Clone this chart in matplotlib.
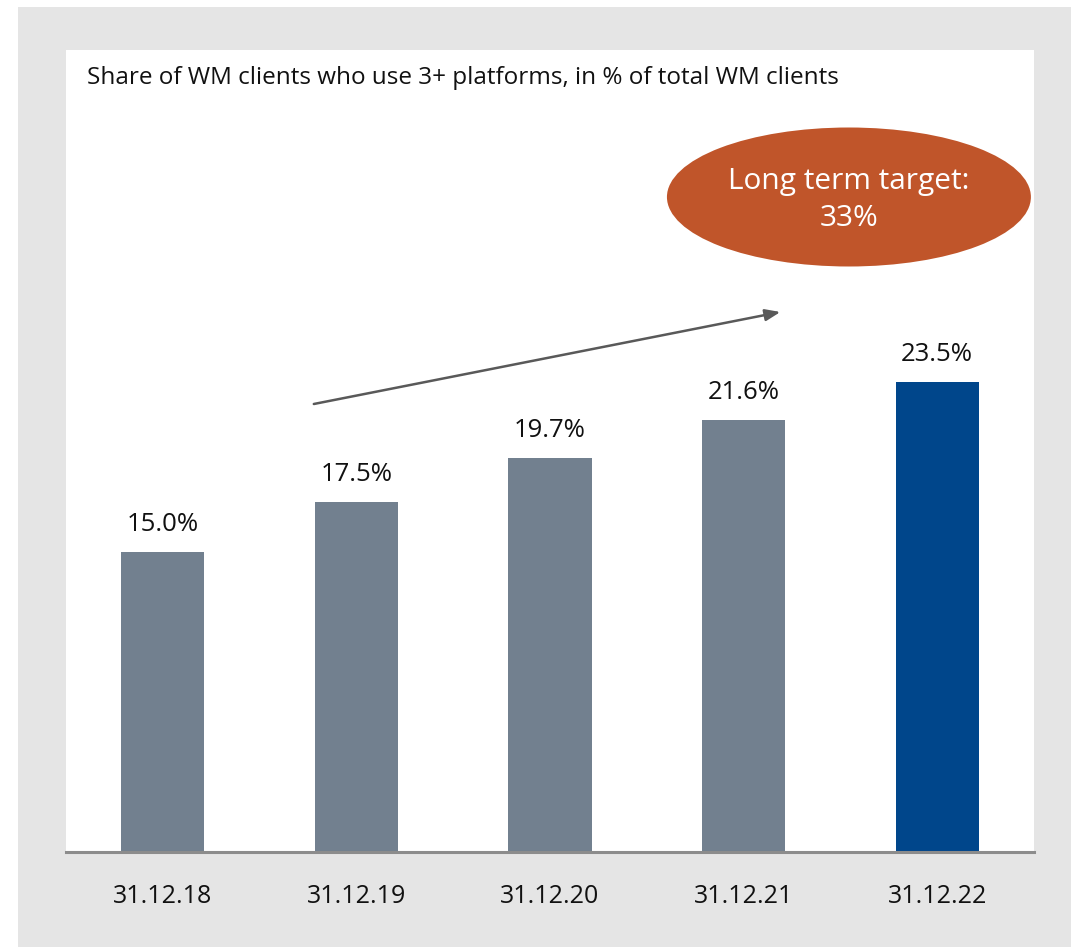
import numpy as np
import matplotlib.pyplot as plt
from matplotlib.patches import Rectangle, Ellipse

# data
dates = ["31.12.18", "31.12.19", "31.12.20", "31.12.21", "31.12.22"]
share = [15.0, 17.5, 19.7, 21.6, 23.5]
bar_colors = ["#72808f", "#72808f", "#72808f", "#72808f", "#00468b"]
title = "Share of WM clients who use 3+ platforms, in % of total WM clients"
target_text = "Long term target:\n33%"

plt.rcParams['font.family'] = ['Open Sans', 'DejaVu Sans']

W, H = 1071, 947
fig = plt.figure(figsize=(W / 100, H / 100), dpi=100, facecolor="white")

# grey frame behind the chart
fig.add_artist(Rectangle((18 / W, 0), 1 - 18 / W, 1 - 7 / H, transform=fig.transFigure,
                         facecolor="#e5e5e5", edgecolor="none", zorder=-5))

ax = fig.add_axes([66 / W, 1 - 852 / H, (1034 - 66) / W, (852 - 50) / H])
ax.set_zorder(2)
ax.set_facecolor("white")

x = np.arange(len(dates))
bars = ax.bar(x, share, width=0.43, color=bar_colors, zorder=2)
ax.set_xlim(-0.5, len(dates) - 0.5)
ax.set_ylim(0, 40.1)

for xi, v in zip(x, share):
    ax.text(xi, v + 1.37, f"{v:.1f}%", ha="center", va="center", fontsize=18.5, color="#111111")

# axes styling
for s in ["top", "right", "left"]:
    ax.spines[s].set_visible(False)
ax.spines["bottom"].set_color("#8c8c8c")
ax.spines["bottom"].set_linewidth(2.2)
ax.set_yticks([])
ax.set_xticks(x)
ax.set_xticklabels(dates, fontsize=18, color="#111111")
ax.tick_params(axis="x", which="major", length=0, pad=23)
ax.set_xticks([0.5, 1.5], minor=True)
ax.tick_params(axis="x", which="minor", length=1.5, width=10, color="#8c8c8c")

ax.text(0.0217, 0.965, title, transform=ax.transAxes, ha="left", va="center",
        fontsize=17.5, color="#111111")

# trend arrow
ax.annotate("", xy=(3.19, 27.0), xytext=(0.78, 22.4),
            arrowprops=dict(arrowstyle="-|>,head_length=0.9,head_width=0.35",
                            color="#595959", lw=1.8, shrinkA=0, shrinkB=0))

# target bubble
ax.add_patch(Ellipse((3.544, 32.75), 1.88, 6.95, facecolor="#c0552a", edgecolor="none", zorder=3))
ax.text(3.544, 32.6, target_text, ha="center", va="center", fontsize=21.5, color="white",
        linespacing=1.33, zorder=4)

fig.savefig("out.png", dpi=100, facecolor=fig.get_facecolor())
